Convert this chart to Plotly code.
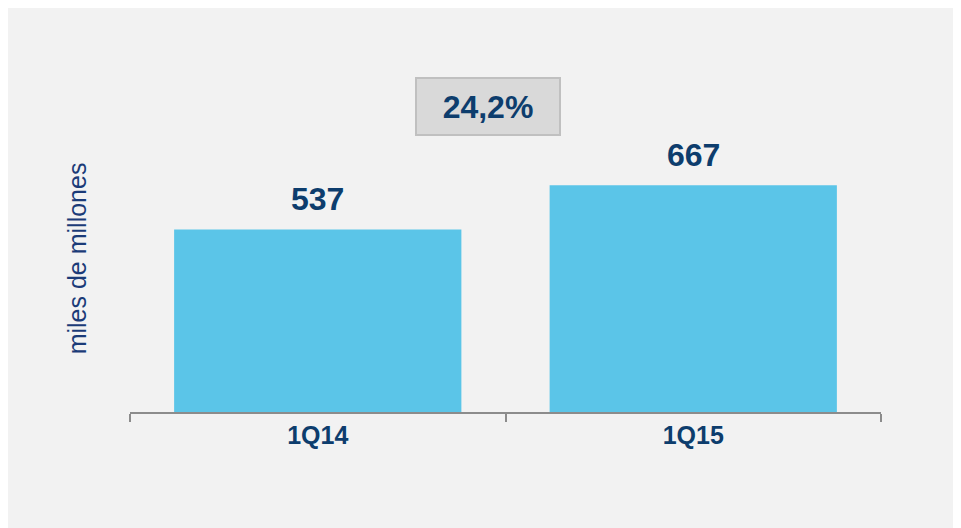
import plotly.graph_objects as go

categories = ["1Q14", "1Q15"]
values = [537, 667]
bar_labels = ["537", "667"]
growth_label = "24,2%"
y_title = "miles de millones"

NAVY = "#0d3d6d"
FONT = "Liberation Sans, Arial, sans-serif"

fig = go.Figure(go.Bar(
    x=categories, y=values,
    marker=dict(color="#5bc5e8", line=dict(width=0)),
    hoverinfo="skip",
))

for c, v, t in zip(categories, values, bar_labels):
    fig.add_annotation(x=c, y=v, text=f"<b>{t}</b>", showarrow=False,
                       xref="x", yref="y", yanchor="bottom", yshift=10,
                       font=dict(family=FONT, size=32, color=NAVY))

fig.add_annotation(xref="paper", yref="paper", x=0.4767, y=0.900,
                   text=f"<b>{growth_label}</b>", showarrow=False,
                   xanchor="center", yanchor="middle",
                   width=142, height=55, bgcolor="#d9d9d9",
                   bordercolor="#c0c0c0", borderwidth=2, borderpad=0,
                   font=dict(family=FONT, size=32, color=NAVY))

fig.add_annotation(xref="paper", yref="paper", x=0, y=0.452,
                   xshift=-53, text=y_title, textangle=-90, showarrow=False,
                   xanchor="center", yanchor="middle",
                   font=dict(family=FONT, size=25, color="#1b3b78"))

fig.update_layout(
    width=961, height=528,
    margin=dict(l=122, r=88, t=63.5, b=124),
    paper_bgcolor="#f2f2f2", plot_bgcolor="#f2f2f2",
    bargap=0.235, showlegend=False,
    xaxis=dict(showline=True, linecolor="#8c8c8c", linewidth=2,
               ticks="outside", tickson="boundaries", ticklen=8,
               tickcolor="#8c8c8c", tickwidth=2,
               tickfont=dict(family=FONT, size=25, color=NAVY),
               showgrid=False, zeroline=False, fixedrange=True),
    yaxis=dict(range=[0, 1000], visible=False, fixedrange=True),
)
fig.update_xaxes(tickprefix="<b>", ticksuffix="</b>")

fig.write_html("out.html")
